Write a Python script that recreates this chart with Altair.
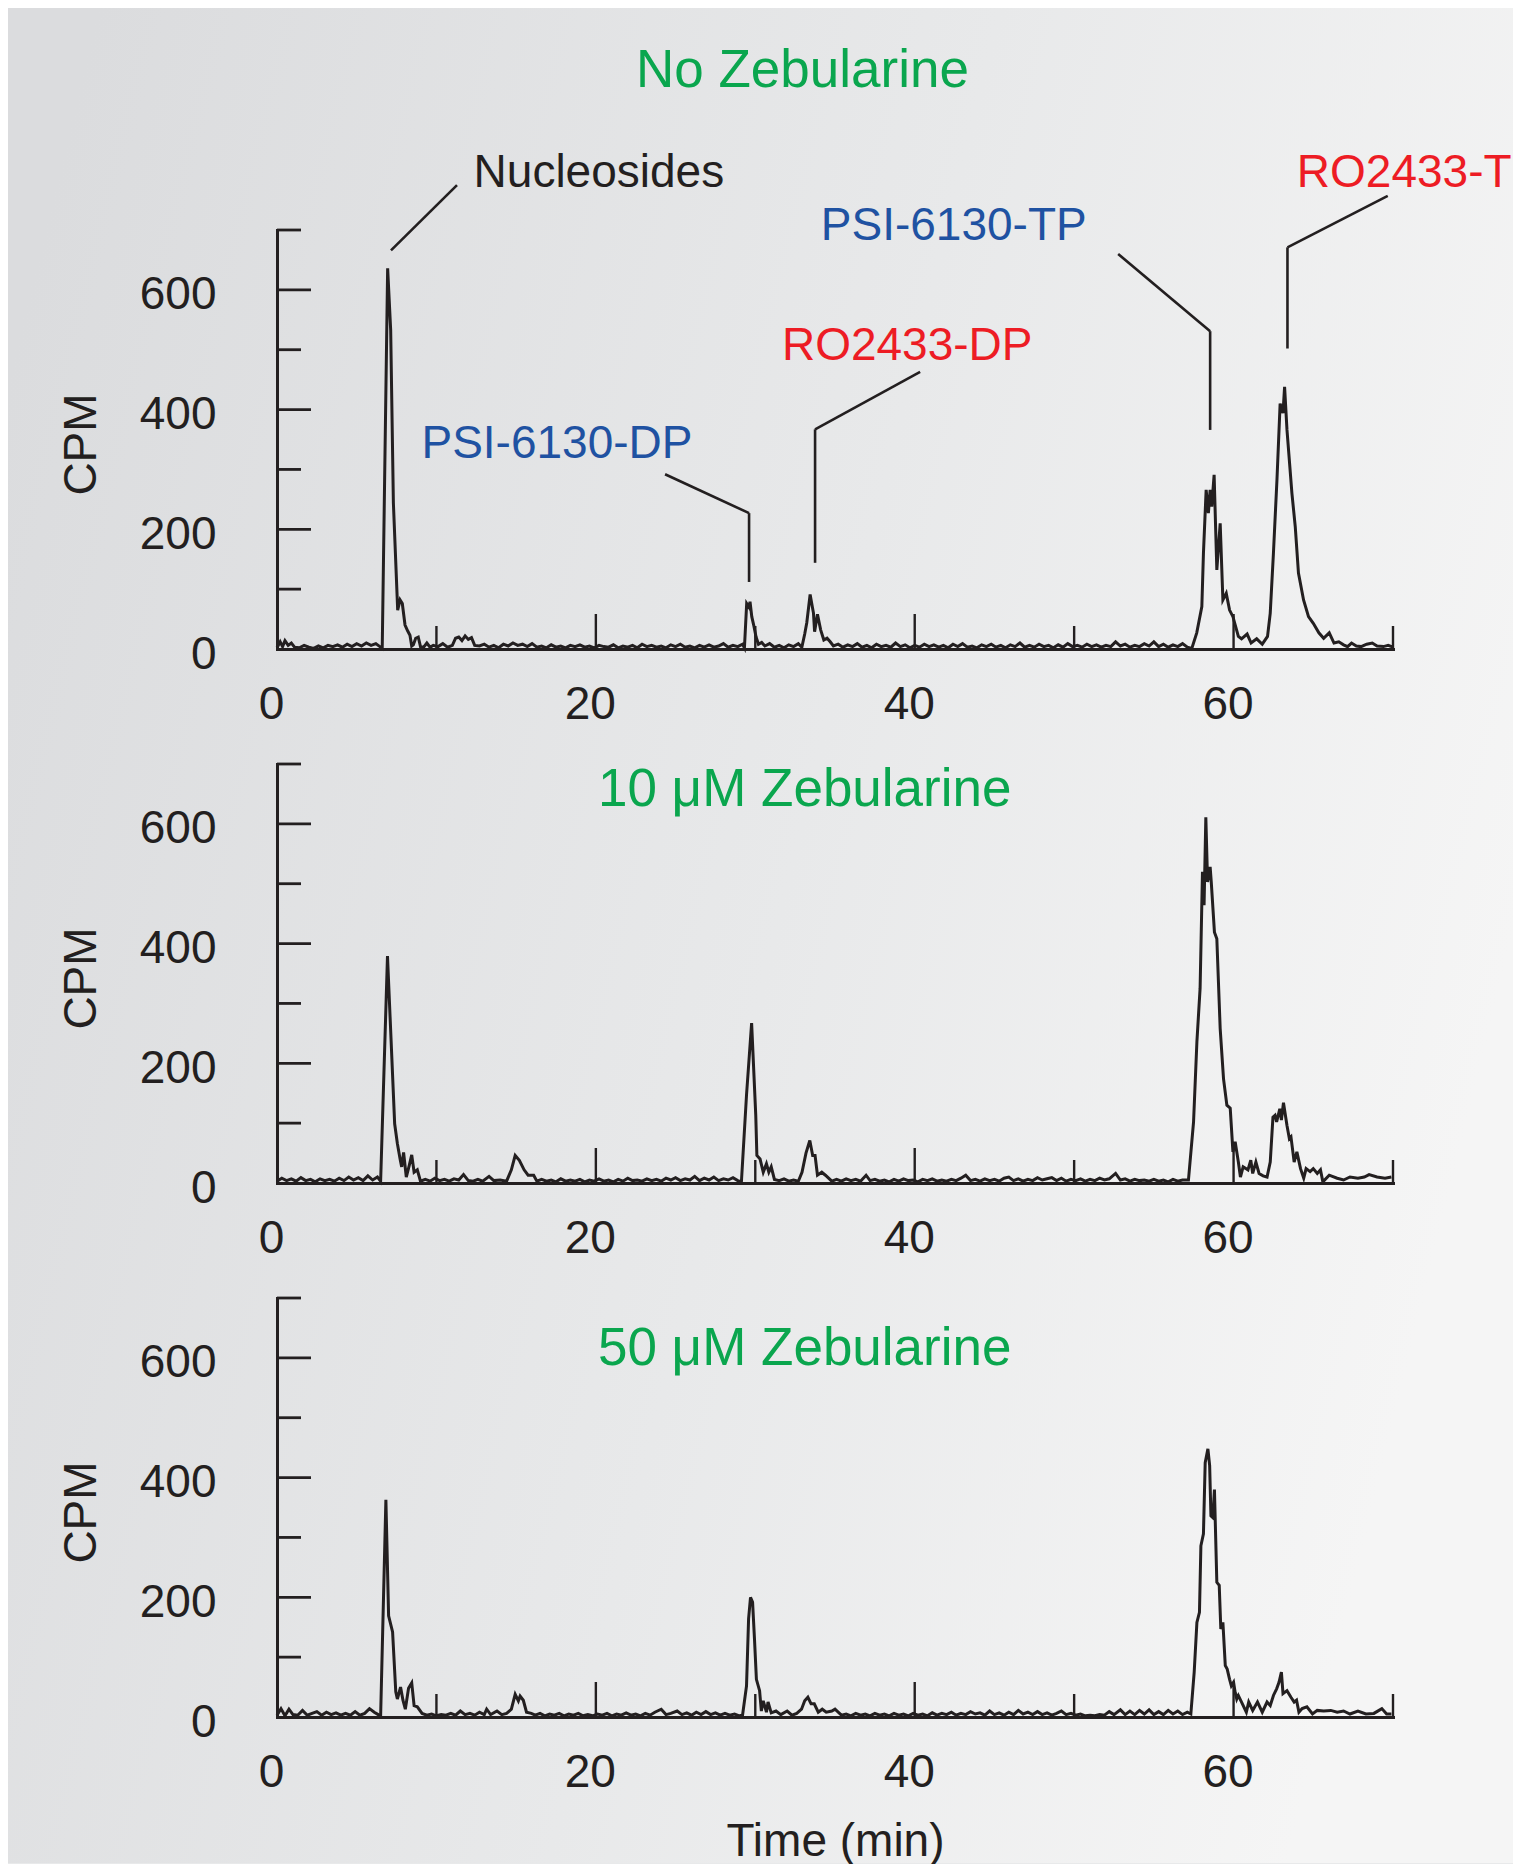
import altair as alt
import pandas as pd

# ---------------- data ----------------
# (time in min, CPM) pairs for each chromatogram
no_zeb = [
    (0, 2), (0.2, 12), (0.35, 4), (0.5, 14), (0.7, 6), (0.9, 10), (1.1, 3), (1.4, 2), (1.7, 6), (2.0, 3),
    (2.3, 1), (2.6, 5), (2.9, 2), (3.2, 6), (3.5, 4), (3.8, 7), (4.1, 3), (4.4, 8), (4.7, 4), (5.0, 9),
    (5.3, 5), (5.6, 10), (5.9, 6), (6.2, 9), (6.6, 1), (6.94, 636), (7.13, 533), (7.3, 244), (7.57, 65),
    (7.72, 82), (7.86, 76), (8.03, 40), (8.2, 30), (8.34, 23), (8.45, 5), (8.55, 7), (8.7, 18), (8.86, 20),
    (9.0, 4), (9.2, 3), (9.4, 10), (9.6, 3), (9.8, 6), (10.1, 4), (10.4, 9), (10.7, 3), (11.0, 6), (11.2, 18),
    (11.4, 20), (11.6, 14), (11.8, 22), (12.0, 16), (12.2, 19), (12.4, 6), (12.7, 5), (13.0, 8), (13.3, 3),
    (13.6, 6), (13.9, 2), (14.2, 8), (14.5, 5), (14.8, 10), (15.1, 6), (15.4, 8), (15.7, 4), (16.0, 9),
    (16.3, 3), (16.6, 5), (16.9, 2), (17.2, 7), (17.5, 3), (17.8, 5), (18.1, 2), (18.4, 6), (18.7, 4),
    (19.0, 7), (19.3, 3), (19.6, 5), (19.9, 2), (20.2, 6), (20.5, 4), (20.8, 3), (21.1, 7), (21.4, 2),
    (21.7, 5), (22.0, 3), (22.3, 6), (22.6, 2), (22.9, 8), (23.2, 4), (23.5, 6), (23.8, 3), (24.1, 5),
    (24.4, 2), (24.7, 7), (25.0, 4), (25.3, 8), (25.6, 3), (25.9, 5), (26.2, 2), (26.5, 6), (26.8, 3),
    (27.1, 7), (27.4, 3), (27.7, 5), (28.0, 9), (28.3, 3), (28.6, 6), (28.9, 4), (29.2, 8), (29.32, 2),
    (29.46, 76), (29.6, 70), (29.67, 79), (29.78, 54), (29.9, 40), (30.05, 20), (30.2, 8), (30.4, 11),
    (30.6, 5), (30.9, 9), (31.2, 3), (31.5, 6), (31.8, 2), (32.1, 7), (32.4, 4), (32.7, 9), (32.92, 3),
    (33.1, 25), (33.23, 44), (33.44, 91), (33.58, 70), (33.65, 60), (33.72, 29), (33.9, 58), (34.1, 32),
    (34.3, 15), (34.5, 18), (34.7, 12), (34.9, 5), (35.2, 8), (35.5, 3), (35.8, 7), (36.1, 4), (36.4, 9),
    (36.7, 3), (37.0, 6), (37.3, 2), (37.6, 8), (37.9, 4), (38.2, 6), (38.5, 3), (38.8, 10), (39.1, 4),
    (39.4, 7), (39.7, 2), (40.0, 6), (40.3, 3), (40.6, 8), (40.9, 4), (41.2, 7), (41.5, 3), (41.8, 6),
    (42.1, 2), (42.4, 8), (42.7, 4), (43.0, 9), (43.3, 3), (43.6, 5), (43.9, 2), (44.2, 7), (44.5, 4),
    (44.8, 8), (45.1, 3), (45.4, 6), (45.7, 2), (46.0, 7), (46.3, 4), (46.6, 10), (46.9, 3), (47.2, 6),
    (47.5, 3), (47.8, 8), (48.1, 4), (48.4, 6), (48.7, 2), (49.0, 7), (49.3, 3), (49.6, 9), (49.9, 4),
    (50.2, 6), (50.5, 3), (50.8, 8), (51.1, 4), (51.4, 7), (51.7, 3), (52.0, 6), (52.3, 4), (52.6, 12),
    (52.9, 5), (53.2, 8), (53.5, 3), (53.8, 6), (54.1, 4), (54.4, 9), (54.7, 5), (55.0, 12), (55.3, 4),
    (55.6, 8), (55.9, 3), (56.2, 7), (56.5, 4), (56.8, 9), (57.1, 3), (57.38, 1), (57.69, 27), (58.01, 71),
    (58.11, 160), (58.28, 266), (58.42, 227), (58.53, 266), (58.63, 238), (58.78, 291), (58.95, 132),
    (59.16, 210), (59.33, 82), (59.54, 93), (59.75, 65), (59.96, 54), (60.3, 21), (60.5, 17), (60.85, 25),
    (61.1, 10), (61.45, 17), (61.8, 8), (62.13, 21), (62.3, 60), (62.5, 160), (62.72, 282), (62.92, 410),
    (63.1, 394), (63.2, 438), (63.35, 366), (63.66, 260), (63.87, 204), (64.07, 127), (64.39, 82),
    (64.7, 54), (65.0, 43), (65.35, 27), (65.65, 18), (66.0, 27), (66.3, 10), (66.6, 12), (66.9, 7),
    (67.15, 4), (67.4, 10), (67.7, 5), (68.0, 4), (68.35, 8), (68.7, 10), (69.0, 5), (69.4, 4), (69.7, 6),
    (70.0, 3),
]

zeb_10 = [
    (0, 3), (0.3, 8), (0.6, 4), (0.9, 7), (1.2, 3), (1.5, 9), (1.8, 4), (2.1, 6), (2.4, 2), (2.7, 7),
    (3.0, 4), (3.3, 6), (3.6, 3), (3.9, 8), (4.2, 4), (4.5, 10), (4.8, 5), (5.1, 9), (5.4, 4), (5.7, 12),
    (6.0, 5), (6.3, 10), (6.5, 3), (6.93, 379), (7.38, 99), (7.55, 66), (7.72, 40), (7.82, 27), (7.94, 51),
    (8.11, 10), (8.3, 30), (8.45, 47), (8.6, 18), (8.8, 22), (9.0, 3), (9.3, 6), (9.6, 3), (9.9, 8),
    (10.2, 4), (10.5, 6), (10.8, 3), (11.1, 7), (11.4, 5), (11.7, 14), (12.0, 4), (12.3, 3), (12.6, 6),
    (12.9, 3), (13.3, 11), (13.6, 4), (14.0, 5), (14.4, 3), (14.7, 22), (14.94, 46), (15.2, 38), (15.5, 22),
    (15.75, 13), (16.1, 13), (16.3, 3), (16.6, 6), (16.9, 3), (17.2, 5), (17.5, 2), (17.8, 7), (18.1, 3),
    (18.4, 5), (18.7, 3), (19.0, 6), (19.3, 2), (19.6, 5), (19.9, 3), (20.2, 7), (20.5, 3), (20.8, 5),
    (21.1, 2), (21.4, 6), (21.7, 3), (22.0, 8), (22.3, 4), (22.6, 5), (22.9, 3), (23.2, 7), (23.5, 4),
    (23.8, 6), (24.1, 3), (24.4, 8), (24.7, 5), (25.0, 9), (25.3, 4), (25.6, 7), (25.9, 5), (26.2, 11),
    (26.5, 4), (26.8, 8), (27.1, 5), (27.4, 10), (27.7, 4), (28.0, 7), (28.3, 5), (28.6, 9), (28.9, 4),
    (29.13, 2), (29.45, 147), (29.77, 267), (30.03, 113), (30.1, 46), (30.3, 40), (30.5, 18), (30.7, 32),
    (30.85, 18), (31.0, 27), (31.2, 6), (31.5, 4), (31.8, 7), (32.1, 3), (32.4, 5), (32.7, 3), (32.93, 18),
    (33.18, 50), (33.42, 71), (33.6, 46), (33.75, 46), (33.9, 13), (34.17, 18), (34.4, 13), (34.8, 3),
    (35.1, 6), (35.4, 3), (35.7, 7), (36.0, 4), (36.3, 6), (36.6, 3), (36.95, 13), (37.2, 4), (37.5, 6),
    (37.8, 3), (38.1, 5), (38.4, 2), (38.7, 6), (39.0, 3), (39.3, 7), (39.6, 4), (39.9, 5), (40.2, 2),
    (40.5, 6), (40.8, 4), (41.1, 7), (41.4, 3), (41.7, 5), (42.0, 3), (42.3, 6), (42.6, 4), (42.9, 8),
    (43.2, 13), (43.5, 4), (43.8, 6), (44.1, 3), (44.4, 7), (44.7, 4), (45.0, 6), (45.3, 3), (45.6, 8),
    (45.9, 10), (46.2, 4), (46.5, 7), (46.8, 3), (47.1, 6), (47.4, 4), (47.7, 9), (48.0, 5), (48.3, 7),
    (48.6, 9), (48.9, 4), (49.2, 8), (49.5, 3), (49.8, 6), (50.1, 4), (50.4, 7), (50.7, 3), (51.0, 6),
    (51.3, 4), (51.6, 8), (51.9, 5), (52.2, 7), (52.6, 16), (52.9, 5), (53.2, 7), (53.5, 3), (53.8, 6),
    (54.1, 4), (54.4, 5), (54.7, 3), (55.0, 6), (55.3, 3), (55.6, 5), (55.9, 2), (56.2, 6), (56.5, 3),
    (56.8, 5), (57.17, 5), (57.49, 102), (57.7, 236), (57.9, 325), (58.05, 520), (58.15, 464), (58.26, 611),
    (58.37, 503), (58.53, 528), (58.6, 503), (58.8, 419), (58.95, 408), (59.16, 258), (59.37, 174),
    (59.58, 130), (59.79, 125), (59.96, 52), (60.1, 69), (60.3, 35), (60.43, 10), (60.6, 27), (60.9, 22),
    (61.08, 38), (61.2, 16), (61.4, 35), (61.6, 16), (61.85, 12), (62.1, 10), (62.3, 35), (62.47, 110),
    (62.6, 113), (62.7, 102), (62.9, 124), (63.0, 105), (63.13, 134), (63.35, 96), (63.5, 74), (63.6, 77),
    (63.8, 35), (63.97, 52), (64.2, 24), (64.4, 8), (64.55, 24), (64.8, 19), (65.0, 24), (65.25, 16),
    (65.45, 22), (65.6, 2), (66.0, 13), (66.5, 8), (66.9, 5), (67.3, 10), (67.8, 8), (68.2, 10), (68.5, 14),
    (69.0, 10), (69.5, 8), (69.9, 10),
]

zeb_50 = [
    (0, 3), (0.25, 14), (0.5, 2), (0.75, 13), (1.0, 4), (1.3, 3), (1.6, 11), (1.9, 3), (2.2, 6), (2.5, 9),
    (2.8, 3), (3.1, 8), (3.4, 4), (3.7, 7), (4.0, 3), (4.3, 6), (4.6, 3), (4.9, 9), (5.2, 3), (5.5, 6),
    (5.8, 14), (6.1, 8), (6.35, 4), (6.5, 2), (6.83, 363), (7.0, 169), (7.25, 142), (7.45, 42), (7.55, 30),
    (7.75, 50), (7.9, 28), (8.05, 13), (8.25, 48), (8.45, 57), (8.6, 19), (8.8, 17), (9.1, 6), (9.4, 3),
    (9.7, 5), (10.0, 2), (10.3, 4), (10.6, 3), (10.9, 6), (11.2, 3), (11.5, 10), (11.8, 4), (12.1, 6),
    (12.4, 3), (12.7, 8), (13.0, 4), (13.15, 13), (13.4, 4), (13.8, 10), (14.1, 4), (14.4, 6), (14.7, 13),
    (14.94, 38), (15.14, 27), (15.25, 35), (15.45, 28), (15.65, 8), (15.95, 6), (16.2, 3), (16.5, 6),
    (16.8, 2), (17.1, 5), (17.4, 3), (17.7, 6), (18.0, 2), (18.3, 5), (18.6, 3), (18.9, 6), (19.2, 2),
    (19.5, 4), (19.8, 2), (20.1, 5), (20.4, 3), (20.7, 6), (21.0, 2), (21.3, 5), (21.6, 3), (21.9, 7),
    (22.2, 3), (22.5, 5), (22.8, 2), (23.1, 6), (23.4, 3), (23.7, 8), (24.1, 13), (24.4, 4), (24.7, 6),
    (25.1, 10), (25.4, 4), (25.7, 7), (26.0, 3), (26.3, 8), (26.6, 4), (26.9, 9), (27.2, 4), (27.5, 7),
    (27.8, 3), (28.1, 6), (28.4, 3), (28.7, 5), (29.0, 2), (29.2, 3), (29.45, 52), (29.58, 164), (29.7, 200),
    (29.83, 192), (29.95, 130), (30.07, 63), (30.27, 44), (30.38, 10), (30.5, 27), (30.7, 8), (30.8, 25),
    (31.0, 7), (31.3, 10), (31.6, 4), (32.0, 10), (32.3, 3), (32.6, 6), (32.9, 13), (33.1, 27), (33.3, 33),
    (33.5, 22), (33.7, 22), (33.95, 8), (34.2, 13), (34.45, 8), (34.8, 10), (35.0, 13), (35.4, 3), (35.7, 5),
    (36.0, 2), (36.3, 6), (36.6, 3), (36.9, 5), (37.2, 2), (37.5, 6), (37.8, 3), (38.1, 5), (38.4, 2),
    (38.7, 6), (39.0, 3), (39.3, 5), (39.6, 2), (39.9, 6), (40.2, 3), (40.5, 5), (40.8, 2), (41.1, 7),
    (41.4, 3), (41.7, 6), (42.0, 4), (42.3, 8), (42.6, 3), (42.9, 6), (43.2, 4), (43.5, 9), (43.8, 5),
    (44.1, 7), (44.4, 3), (44.7, 10), (45.0, 4), (45.3, 7), (45.6, 3), (45.9, 8), (46.2, 4), (46.5, 11),
    (46.8, 5), (47.1, 8), (47.4, 4), (47.7, 9), (48.0, 4), (48.3, 7), (48.6, 3), (48.9, 6), (49.2, 10),
    (49.5, 4), (49.8, 6), (50.1, 3), (50.4, 5), (50.7, 2), (51.0, 3), (51.3, 2), (51.6, 4), (51.9, 3),
    (52.2, 9), (52.5, 4), (52.9, 12), (53.2, 4), (53.5, 10), (53.8, 4), (54.1, 11), (54.4, 5), (54.7, 12),
    (55.0, 4), (55.3, 9), (55.6, 4), (55.9, 11), (56.2, 5), (56.5, 10), (56.8, 4), (57.1, 8), (57.32, 5),
    (57.53, 75), (57.7, 158), (57.86, 175), (57.95, 286), (58.11, 306), (58.22, 425), (58.39, 448),
    (58.5, 420), (58.58, 336), (58.7, 333), (58.8, 380), (58.95, 225), (59.1, 220), (59.2, 147),
    (59.33, 158), (59.48, 86), (59.6, 80), (59.75, 63), (59.86, 52), (60.0, 58), (60.1, 41), (60.2, 30),
    (60.3, 36), (60.5, 25), (60.8, 8), (60.95, 25), (61.2, 11), (61.5, 25), (61.8, 8), (62.1, 25), (62.3, 19),
    (62.5, 36), (62.7, 47), (62.85, 58), (63.0, 75), (63.1, 39), (63.35, 44), (63.6, 33), (63.8, 25),
    (63.95, 28), (64.1, 8), (64.3, 14), (64.6, 17), (64.95, 5), (65.25, 11), (65.65, 10), (66.1, 11),
    (66.5, 8), (66.9, 10), (67.3, 5), (67.8, 10), (68.3, 5), (68.8, 6), (69.3, 14), (69.6, 5), (69.9, 5),
]

panel_titles = ["No Zebularine", "10 \u03bcM Zebularine", "50 \u03bcM Zebularine"]
title_pos = [(32.96, 965), (33.1, 656), (33.1, 615)]  # (min, CPM) of title centre

y_tick_labels = [0, 200, 400, 600]
y_major_ticks = [200, 400, 600]
y_minor_ticks = [100, 300, 500, 700]
x_tick_labels = [0, 20, 40, 60]
x_major_ticks = [20, 40, 60]
x_minor_ticks = [10, 30, 50, 70]

# peak annotations on the first panel
ann_center_labels = ["PSI-6130-DP", "RO2433-DP", "PSI-6130-TP"]
ann_center_t = [17.56, 39.53, 42.45]
ann_center_cpm = [342, 506, 707]
ann_center_color = ["#1f52a2", "#ed1c24", "#1f52a2"]
ann_left_labels = ["Nucleosides"]
ann_left_t = [12.33]
ann_left_cpm = [795]
ann_cut_labels = ["RO2433-TP"]
ann_cut_t = [63.97]
ann_cut_cpm = [795]
# leader line segments (t, cpm) -> (t2, cpm2)
lead_t = [11.29, 24.34, 29.61, 40.34, 33.75, 52.76, 58.53, 69.67, 63.38]
lead_cpm = [775, 292, 227, 463, 367, 660, 531, 757, 671]
lead_t2 = [7.15, 29.61, 29.61, 33.75, 33.75, 58.53, 58.53, 63.38, 63.38]
lead_cpm2 = [666, 227, 112, 367, 144, 531, 366, 671, 502]

# ---------------- chart ----------------
W, H = 1116, 419
INK = "#231f20"
GREEN = "#0aa64e"
FONT = "Liberation Sans"
XS = alt.Scale(domain=[0, 70], nice=False)
YS = alt.Scale(domain=[0, 700], nice=False)


def xq(axis=None):
    if axis is None:
        return alt.X("t:Q", scale=XS)
    return alt.X("t:Q", scale=XS, axis=axis)


def yq(axis=None):
    if axis is None:
        return alt.Y("cpm:Q", scale=YS)
    return alt.Y("cpm:Q", scale=YS, axis=axis)


def panel(trace, title_text, tpos, first=False, last=False):
    df = pd.DataFrame(trace, columns=["t", "cpm"])
    xaxis_kw = dict(values=x_tick_labels, ticks=False, tickSize=0, domainColor=INK, domainWidth=3,
                    domainCap="square", labelFont=FONT, labelFontSize=46, labelColor=INK,
                    labelPadding=33, labelFlush=False, labelOffset=-6, labelOverlap=False,
                    grid=False, zindex=1)
    if last:
        xaxis = alt.Axis(title="Time (min)", titleFont=FONT, titleFontSize=46, titleColor=INK,
                         titleFontWeight="normal", titleY=124, titleBaseline="middle", **xaxis_kw)
    else:
        xaxis = alt.Axis(title=None, **xaxis_kw)
    yaxis = alt.Axis(values=y_tick_labels, ticks=False, tickSize=0, domainColor=INK, domainWidth=3,
                     domainCap="square", labelFont=FONT, labelFontSize=46, labelColor=INK,
                     labelPadding=61, labelOffset=5, labelFlush=False, labelOverlap=False, grid=False,
                     zindex=1, title="CPM", titleFont=FONT, titleFontSize=46, titleColor=INK,
                     titleFontWeight="normal", titleAngle=270, titleAlign="center",
                     titleBaseline="middle", titleX=-196, titleY=214)

    layers = []
    if first:
        grad = alt.Gradient(gradient="linear", x1=0, y1=0.2, x2=1, y2=0.5,
                            stops=[alt.GradientStop(offset=0, color="#dbdcde"),
                                   alt.GradientStop(offset=0.55, color="#e8e9ea"),
                                   alt.GradientStop(offset=1, color="#f5f5f5")])
        layers.append(alt.Chart(pd.DataFrame({"a": [0]})).mark_rect(fill=grad).encode(
            x=alt.value(-269), x2=alt.value(1236), y=alt.value(-222), y2=alt.value(1633)))

    line = alt.Chart(df).mark_line(color=INK, strokeWidth=3).encode(x=xq(xaxis), y=yq(yaxis))
    layers.append(line)

    ymaj = alt.Chart(pd.DataFrame({"cpm": y_major_ticks})).mark_rule(color=INK, strokeWidth=2.8).encode(
        y=yq(), x=alt.value(0), x2=alt.value(34))
    ymin = alt.Chart(pd.DataFrame({"cpm": y_minor_ticks})).mark_rule(color=INK, strokeWidth=2.8).encode(
        y=yq(), x=alt.value(0), x2=alt.value(24))
    xmaj = alt.Chart(pd.DataFrame({"t": x_major_ticks})).mark_rule(color=INK, strokeWidth=2.4).encode(
        x=xq(), y=alt.value(H), y2=alt.value(H - 35))
    xmin = alt.Chart(pd.DataFrame({"t": x_minor_ticks})).mark_rule(color=INK, strokeWidth=2.4).encode(
        x=xq(), y=alt.value(H), y2=alt.value(H - 23))
    layers += [ymaj, ymin, xmaj, xmin]

    tdf = pd.DataFrame({"t": [tpos[0]], "cpm": [tpos[1]], "label": [title_text]})
    layers.append(alt.Chart(tdf).mark_text(font=FONT, fontSize=53, color=GREEN, align="center",
                                            baseline="middle").encode(x=xq(), y=yq(), text="label:N"))

    if first:
        cdf = pd.DataFrame({"t": ann_center_t, "cpm": ann_center_cpm, "label": ann_center_labels,
                            "col": ann_center_color})
        layers.append(alt.Chart(cdf).mark_text(font=FONT, fontSize=46, align="center", baseline="middle").encode(
            x=xq(), y=yq(), text="label:N", color=alt.Color("col:N", scale=None)))
        ldf = pd.DataFrame({"t": ann_left_t, "cpm": ann_left_cpm, "label": ann_left_labels})
        layers.append(alt.Chart(ldf).mark_text(font=FONT, fontSize=46, align="left", baseline="middle",
                                               color=INK).encode(x=xq(), y=yq(), text="label:N"))
        kdf = pd.DataFrame({"t": ann_cut_t, "cpm": ann_cut_cpm, "label": ann_cut_labels})
        layers.append(alt.Chart(kdf).mark_text(font=FONT, fontSize=46, align="left", baseline="middle",
                                               color="#ed1c24", limit=218, ellipsis="\u200b").encode(
            x=xq(), y=yq(), text="label:N"))
        sdf = pd.DataFrame({"t": lead_t, "cpm": lead_cpm, "t2": lead_t2, "cpm2": lead_cpm2})
        layers.append(alt.Chart(sdf).mark_rule(color=INK, strokeWidth=2.6).encode(
            x=xq(), y=yq(), x2="t2:Q", y2="cpm2:Q"))

    return alt.layer(*layers).properties(width=W, height=H)


p1 = panel(no_zeb, panel_titles[0], title_pos[0], first=True)
p2 = panel(zeb_10, panel_titles[1], title_pos[1])
p3 = panel(zeb_50, panel_titles[2], title_pos[2], last=True)

chart = alt.vconcat(p1, p2, p3, spacing=115, bounds="flush").properties(
    padding=0, background="#e8e9ea"
).configure_view(strokeOpacity=0)

chart.save("out.html", embed_options={"renderer": "svg", "actions": False})
